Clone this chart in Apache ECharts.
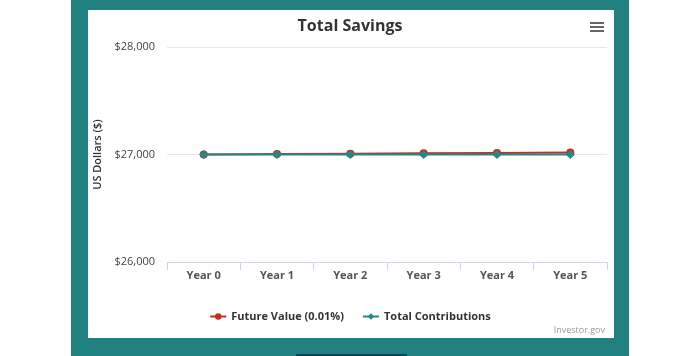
<!DOCTYPE html>
<html>
<head>
<meta charset="utf-8">
<script src="https://cdn.jsdelivr.net/npm/echarts@6/dist/echarts.min.js"></script>
<style>
  html, body { margin: 0; padding: 0; background: #ffffff; width: 700px; height: 356px; overflow: hidden; }
  #frame { position: absolute; left: 71px; top: 0; width: 558px; height: 356px; background: #20807f; }
  #panel { position: absolute; left: 88px; top: 10px; width: 526px; height: 328px; background: #ffffff; }
  #bar { position: absolute; left: 296px; top: 354px; width: 111px; height: 2px; background: #0d4357; }
  #chart { position: absolute; left: 0; top: 0; width: 700px; height: 356px; }
</style>
</head>
<body>
<div id="frame"></div>
<div id="panel"></div>
<div id="bar"></div>
<div id="chart"></div>
<script>
const categories = ['Year 0', 'Year 1', 'Year 2', 'Year 3', 'Year 4', 'Year 5'];
const futureValue = [27000, 27004, 27008, 27012, 27015, 27019];
const totalContributions = [27000, 27000, 27000, 27000, 27000, 27000];
const seriesNames = ['Future Value (0.01%)', 'Total Contributions'];
const yTicks = { min: 26000, max: 28000, interval: 1000 };

const FONT = '"Open Sans", "Liberation Sans", sans-serif';
const chart = echarts.init(document.getElementById('chart'), null, { renderer: 'canvas' });
chart.setOption({
  backgroundColor: 'transparent',
  animation: false,
  textStyle: { fontFamily: FONT },
  title: {
    text: 'Total Savings',
    left: 'center',
    top: 13,
    textStyle: { fontFamily: FONT, fontSize: 16, fontWeight: 'bold', color: '#333333' }
  },
  grid: { left: 167, right: 93, top: 47, bottom: 94, containLabel: false },
  legend: {
    data: seriesNames,
    bottom: 29,
    left: 'center',
    itemWidth: 16,
    itemHeight: 8,
    itemGap: 18,
    textStyle: { fontFamily: FONT, fontSize: 11, fontWeight: 'bold', color: '#333333' }
  },
  xAxis: {
    type: 'category',
    data: categories,
    boundaryGap: true,
    axisLine: { lineStyle: { color: '#ccd6eb', width: 1 } },
    axisTick: { show: true, length: 8, lineStyle: { color: '#ccd6eb' } },
    axisLabel: { fontFamily: FONT, fontSize: 11, fontWeight: 'bold', color: '#555555', margin: 8 },
    splitLine: { show: false }
  },
  yAxis: {
    type: 'value',
    min: yTicks.min,
    max: yTicks.max,
    interval: yTicks.interval,
    name: 'US Dollars ($)',
    nameLocation: 'middle',
    nameGap: 50,
    nameTextStyle: { fontFamily: FONT, fontSize: 11, fontWeight: 600, color: '#333333' },
    axisLine: { show: false },
    axisTick: { show: false },
    axisLabel: {
      fontFamily: FONT, fontSize: 11, color: '#444444', margin: 12,
      formatter: v => '$' + v.toLocaleString('en-US')
    },
    splitLine: { lineStyle: { color: '#e6e6e6', width: 1 } }
  },
  graphic: [
    {
      type: 'text', right: 95, top: 326,
      style: { text: 'Investor.gov', fontFamily: FONT, fontSize: 9, fill: '#999999' }
    },
    {
      type: 'group', left: 590, top: 22,
      children: [
        { type: 'rect', shape: { x: 0, y: 0, width: 14, height: 2 }, style: { fill: '#666666' } },
        { type: 'rect', shape: { x: 0, y: 4, width: 14, height: 2 }, style: { fill: '#666666' } },
        { type: 'rect', shape: { x: 0, y: 8, width: 14, height: 2 }, style: { fill: '#666666' } }
      ]
    }
  ],
  series: [
    {
      name: seriesNames[0],
      type: 'line',
      data: futureValue,
      symbol: 'circle',
      symbolSize: 8,
      showSymbol: true,
      color: '#cc2b1c',
      lineStyle: { width: 2, color: '#cc2b1c' },
      itemStyle: { color: '#cc2b1c' },
      z: 2
    },
    {
      name: seriesNames[1],
      type: 'line',
      data: totalContributions,
      symbol: 'diamond',
      symbolSize: 9,
      showSymbol: true,
      color: '#1f8a8a',
      lineStyle: { width: 2, color: '#1f8a8a' },
      itemStyle: { color: '#1f8a8a' },
      z: 3
    }
  ]
});
</script>
</body>
</html>
